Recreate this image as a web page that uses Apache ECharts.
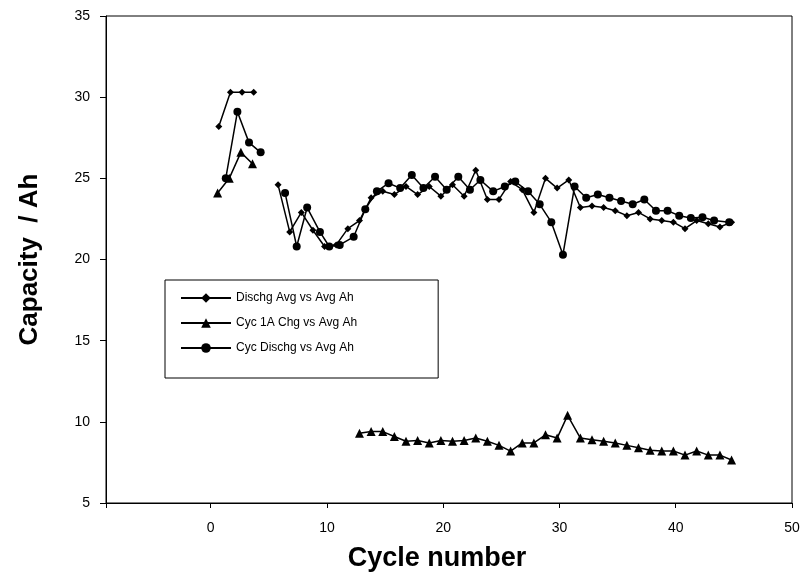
<!DOCTYPE html>
<html>
<head>
<meta charset="utf-8">
<script src="https://cdn.jsdelivr.net/npm/echarts@6/dist/echarts.min.js"></script>
<style>
  html, body { margin: 0; padding: 0; background: #fff; }
  #chart { width: 806px; height: 577px; }
</style>
</head>
<body>
<div id="chart"></div>
<script>
// Dischg Avg vs Avg Ah (null = gap in line)
var dischgAvgX = [0.7, 1.7, 2.7, 3.7, 4.8,
  5.8, 6.8, 7.8, 8.8, 9.8, 10.8, 11.8, 12.8, 13.8, 14.8, 15.8, 16.8, 17.8, 18.8, 19.8,
  20.8, 21.8, 22.8, 23.8, 24.8, 25.8, 26.8, 27.8, 28.8, 29.8, 30.8, 31.8, 32.8, 33.8,
  34.8, 35.8, 36.8, 37.8, 38.8, 39.8, 40.8, 41.8, 42.8, 43.8, 44.8];
var dischgAvgY = [28.2, 30.3, 30.3, 30.3, null,
  24.6, 21.7, 22.9, 21.8, 20.8, 20.9, 21.9, 22.4, 23.8, 24.2, 24.0, 24.5, 24.0, 24.5, 23.9,
  24.6, 23.9, 25.5, 23.7, 23.7, 24.8, 24.3, 22.9, 25.0, 24.4, 24.9, 23.2, 23.3, 23.2,
  23.0, 22.7, 22.9, 22.5, 22.4, 22.3, 21.9, 22.4, 22.2, 22.0, 22.3];

// Cyc 1A Chg vs Avg Ah
var chgX = [0.6, 1.6, 2.6, 3.6, 8.0,
  12.8, 13.8, 14.8, 15.8, 16.8, 17.8, 18.8, 19.8, 20.8, 21.8, 22.8, 23.8, 24.8, 25.8,
  26.8, 27.8, 28.8, 29.8, 30.7, 31.8, 32.8, 33.8, 34.8, 35.8, 36.8, 37.8, 38.8, 39.8,
  40.8, 41.8, 42.8, 43.8, 44.8];
var chgY = [24.1, 25.0, 26.6, 25.9, null,
  9.3, 9.4, 9.4, 9.1, 8.8, 8.85, 8.7, 8.85, 8.8, 8.85, 9.0, 8.8, 8.55, 8.2,
  8.7, 8.7, 9.2, 9.0, 10.4, 9.0, 8.9, 8.8, 8.7, 8.55, 8.4, 8.25, 8.2, 8.2,
  7.95, 8.2, 7.95, 7.95, 7.65];

// Cyc Dischg vs Avg Ah
var cycDischgX = [1.3, 2.3, 3.3, 4.3, 5.3,
  6.4, 7.4, 8.3, 9.4, 10.2, 11.1, 12.3, 13.3, 14.3, 15.3, 16.3, 17.3, 18.3, 19.3, 20.3,
  21.3, 22.3, 23.2, 24.3, 25.3, 26.2, 27.3, 28.3, 29.3, 30.3, 31.3, 32.3, 33.3, 34.3,
  35.3, 36.3, 37.3, 38.3, 39.3, 40.3, 41.3, 42.3, 43.3, 44.6];
var cycDischgY = [25.0, 29.1, 27.2, 26.6, null,
  24.1, 20.8, 23.2, 21.7, 20.8, 20.9, 21.4, 23.1, 24.2, 24.7, 24.4, 25.2, 24.4, 25.1, 24.3,
  25.1, 24.3, 24.9, 24.2, 24.5, 24.8, 24.2, 23.4, 22.3, 20.3, 24.5, 23.8, 24.0, 23.8,
  23.6, 23.4, 23.7, 23.0, 23.0, 22.7, 22.55, 22.6, 22.4, 22.3];

var xMin = -9, xMax = 50;   // ticks drawn at 0, 10, ... 50
var yTicks = [5, 10, 15, 20, 25, 30, 35];

function pairs(xs, ys) {
  return xs.map(function (x, i) { return [x, ys[i] === null ? '-' : ys[i]]; });
}

var chart = echarts.init(document.getElementById('chart'), null, { renderer: 'canvas' });

var font = 'Liberation Sans';

var option = {
  backgroundColor: '#fff',
  animation: false,
  textStyle: { fontFamily: font, color: '#000' },
  grid: {
    left: 106,
    right: 14,
    top: 16,
    bottom: 72,
    show: true,
    borderColor: '#000',
    borderWidth: 1
  },
  legend: {
    orient: 'vertical',
    left: 165,
    top: 280,
    itemWidth: 50,
    itemHeight: 12,
    itemGap: 13,
    padding: [12, 81, 24, 15],
    borderColor: '#000',
    borderWidth: 1,
    textStyle: { fontFamily: font, fontSize: 12, color: '#000' },
    data: ['Dischg Avg vs Avg Ah', 'Cyc 1A Chg vs Avg Ah', 'Cyc Dischg vs Avg Ah']
  },
  xAxis: {
    type: 'value',
    min: xMin,
    max: xMax,
    minInterval: 10,
    maxInterval: 10,
    name: 'Cycle number',
    nameLocation: 'middle',
    nameGap: 42,
    nameTextStyle: { fontFamily: font, fontSize: 27, fontWeight: 'bold', color: '#000', padding: [0, 24, 0, 0] },
    axisLine: { onZero: false, lineStyle: { color: '#000', width: 1 } },
    axisTick: { inside: false, length: 5, lineStyle: { color: '#000' } },
    axisLabel: {
      fontSize: 14, color: '#000', margin: 18,
      formatter: function (v) { return v < 0 ? '' : String(v); }
    },
    splitLine: { show: false }
  },
  yAxis: {
    type: 'value',
    min: yTicks[0],
    max: yTicks[yTicks.length - 1],
    interval: 5,
    name: 'Capacity  / Ah',
    nameLocation: 'middle',
    nameGap: 63,
    nameTextStyle: { fontFamily: font, fontSize: 26, fontWeight: 'bold', color: '#000' },
    axisLine: { show: true, onZero: false, lineStyle: { color: '#000', width: 1 } },
    axisTick: { show: true, length: 6, lineStyle: { color: '#000' } },
    axisLabel: { fontSize: 14, color: '#000', margin: 16 },
    splitLine: { show: false }
  },
  series: [{
    name: 'Dischg Avg vs Avg Ah',
    type: 'line',
    data: pairs(dischgAvgX, dischgAvgY),
    symbol: 'diamond',
    symbolSize: 7,
    connectNulls: false,
    lineStyle: { color: '#000', width: 1.5 },
    itemStyle: { color: '#000' }
  }, {
    name: 'Cyc 1A Chg vs Avg Ah',
    type: 'line',
    data: pairs(chgX, chgY),
    symbol: 'triangle',
    symbolSize: 9,
    connectNulls: false,
    lineStyle: { color: '#000', width: 1.5 },
    itemStyle: { color: '#000' }
  }, {
    name: 'Cyc Dischg vs Avg Ah',
    type: 'line',
    data: pairs(cycDischgX, cycDischgY),
    symbol: 'circle',
    symbolSize: 8,
    connectNulls: false,
    lineStyle: { color: '#000', width: 1.5 },
    itemStyle: { color: '#000' }
  }]
};

chart.setOption(option);
</script>
</body>
</html>
